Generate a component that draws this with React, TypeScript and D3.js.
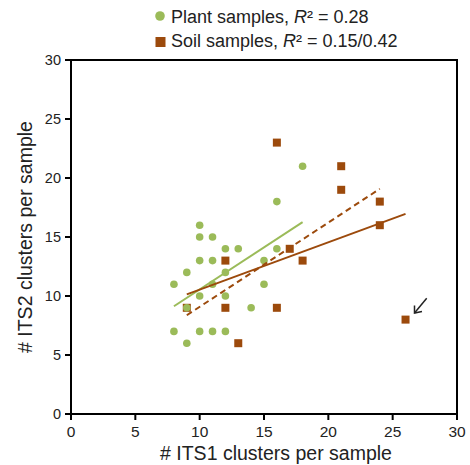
import React from "react";
import * as d3 from "d3";

const plantX = [10, 10, 11, 12, 13, 16, 10, 11, 15, 9, 12, 8, 11, 15, 10, 12, 9, 14, 8, 10, 11, 12, 9, 16, 18];
const plantY = [16, 15, 15, 14, 14, 14, 13, 13, 13, 12, 12, 11, 11, 11, 10, 10, 9, 9, 7, 7, 7, 7, 6, 18, 21];
const soilX = [16, 21, 21, 24, 24, 17, 12, 18, 9, 12, 16, 13, 26];
const soilY = [23, 21, 19, 18, 16, 14, 13, 13, 9, 9, 9, 6, 8];

const plantFitX = [8, 18];
const plantFitY = [9.13, 16.26];
const soilFitX = [9, 26];
const soilFitY = [10.14, 16.96];
const soilFitDashX = [9, 24];
const soilFitDashY = [8.37, 19.08];

const xTicks = [0, 5, 10, 15, 20, 25, 30];
const yTicks = [0, 5, 10, 15, 20, 25, 30];

const GREEN = "#9BBB59";
const BROWN = "#9C4A0C";
const FONT = "Liberation Sans, Arial, sans-serif";

export default function App() {
  const x = d3.scaleLinear().domain([0, 30]).range([71, 457]);
  const y = d3.scaleLinear().domain([0, 30]).range([414, 60]);
  const line = d3
    .line<[number, number]>()
    .x((d) => x(d[0]))
    .y((d) => y(d[1]));
  const pts = (xs: number[], ys: number[]) => xs.map((v, i) => [v, ys[i]] as [number, number]);

  return (
    <svg
      width={470}
      height={465}
      style={{ position: "absolute", left: 0, top: 0, background: "#fff" }}
      fontFamily={FONT}
    >
      <rect x={0} y={0} width={470} height={465} fill="#fff" />
      {/* frame */}
      <rect x={x(0)} y={y(30)} width={x(30) - x(0)} height={y(0) - y(30)} fill="none" stroke="#000" strokeWidth={2} />
      {/* ticks */}
      {xTicks.map((t) => (
        <g key={"xt" + t}>
          <line x1={x(t)} x2={x(t)} y1={y(0)} y2={y(0) + 6} stroke="#000" strokeWidth={2} />
          <text x={x(t)} y={437} textAnchor="middle" fontSize={15.5} fill="#222">
            {t}
          </text>
        </g>
      ))}
      {yTicks.map((t) => (
        <g key={"yt" + t}>
          <line x1={x(0) - 6} x2={x(0)} y1={y(t)} y2={y(t)} stroke="#000" strokeWidth={2} />
          <text x={61} y={y(t) + 5} textAnchor="end" fontSize={14.5} fill="#222">
            {t}
          </text>
        </g>
      ))}
      {/* axis titles */}
      <text x={276} y={460} textAnchor="middle" fontSize={19.5} fill="#222">
        # ITS1 clusters per sample
      </text>
      <text
        transform={`translate(32,237) rotate(-90)`}
        textAnchor="middle"
        fontSize={19.5}
        fill="#222"
      >
        # ITS2 clusters per sample
      </text>
      {/* soil points */}
      {pts(soilX, soilY).map((d, i) => (
        <rect key={"s" + i} x={x(d[0]) - 4} y={y(d[1]) - 4} width={8} height={8} fill={BROWN} />
      ))}
      {/* plant points */}
      {pts(plantX, plantY).map((d, i) => (
        <circle key={"p" + i} cx={x(d[0])} cy={y(d[1])} r={3.8} fill={GREEN} />
      ))}
      {/* fits */}
      <path d={line(pts(plantFitX, plantFitY)) || ""} stroke={GREEN} strokeWidth={2} fill="none" />
      <path d={line(pts(soilFitX, soilFitY)) || ""} stroke={BROWN} strokeWidth={2} fill="none" />
      <path
        d={line(pts(soilFitDashX, soilFitDashY)) || ""}
        stroke={BROWN}
        strokeWidth={2}
        strokeDasharray="6,4"
        fill="none"
      />
      {/* arrow */}
      <line x1={426.7} y1={298.3} x2={414.5} y2={313} stroke="#222" strokeWidth={1.5} />
      <polyline points="414.5,305.5 414.5,313 422,311.5" fill="none" stroke="#222" strokeWidth={1.5} />
      {/* legend */}
      <circle cx={160} cy={16} r={4.8} fill={GREEN} />
      <text x={171} y={23} fontSize={18} fill="#222">
        Plant samples, <tspan fontStyle="italic">R</tspan>² = 0.28
      </text>
      <rect x={155.5} y={37} width={10} height={10} fill={BROWN} />
      <text x={171} y={47} fontSize={18} fill="#222">
        Soil samples, <tspan fontStyle="italic">R</tspan>² = 0.15/0.42
      </text>
    </svg>
  );
}
